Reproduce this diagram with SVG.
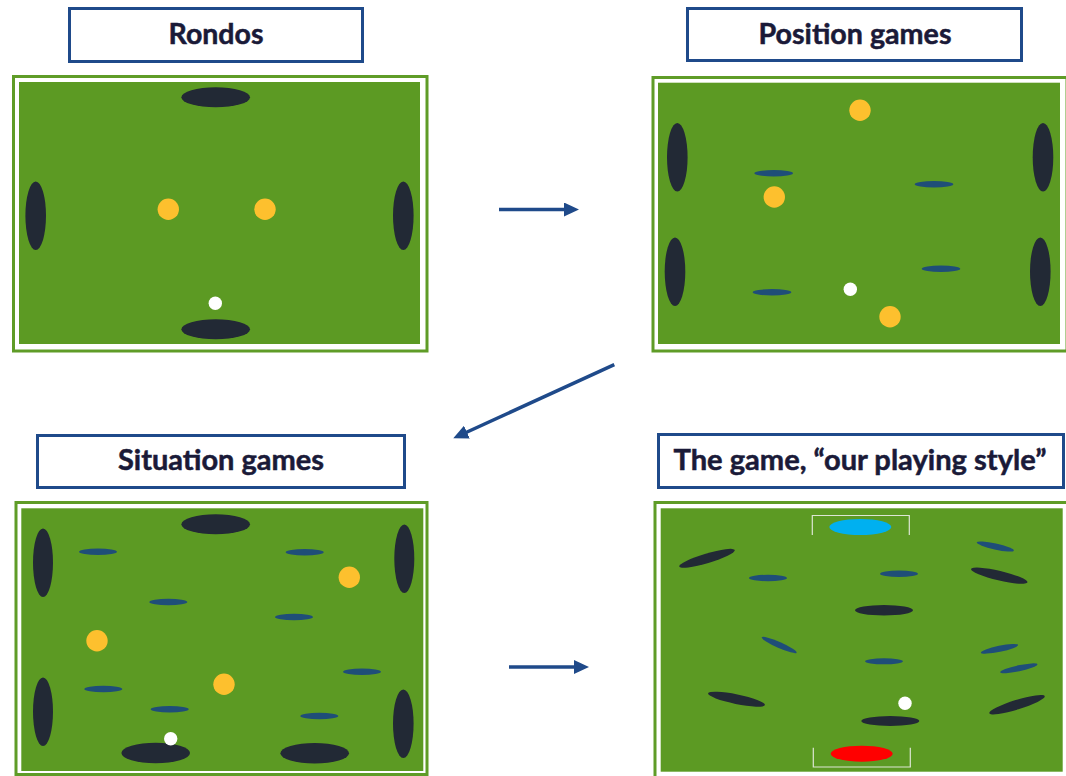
<svg xmlns="http://www.w3.org/2000/svg" width="1066" height="776" viewBox="0 0 1066 776">
<defs>
<style>
.title rect{fill:#fff;stroke:#1f4a8a;stroke-width:3}
.title text{font-family:Lato,"Noto Sans",sans-serif;font-weight:bold;font-size:28px;fill:#1a1a38;stroke:#1a1a38;stroke-width:0.5;text-anchor:middle}
.frame{fill:#fff;stroke:#5f9c27;stroke-width:3}
.pitch{fill:#5c9a23}
.d{fill:#222935}
.y{fill:#fdc02e}
.w{fill:#fff}
.b{fill:#1f4e78}
.goal{fill:none;stroke:#dde6d4;stroke-width:1.2}
.conn line{stroke:#1f4a8a;stroke-width:3.5}
</style>
<marker id="ah" viewBox="0 -7 15 14" markerWidth="15" markerHeight="14" refX="1" refY="0" orient="auto" markerUnits="userSpaceOnUse">
<path d="M0,-7 L15,0 L0,7 z" fill="#1f4a8a"/>
</marker>
</defs>
<rect width="1066" height="776" fill="#fff"/>

<g id="title-rondos" class="title">
<rect x="69.5" y="8.5" width="293" height="53"/>
<text x="216" y="44" textLength="95" lengthAdjust="spacingAndGlyphs">Rondos</text>
</g>
<g id="title-position" class="title">
<rect x="687.5" y="8.5" width="334" height="52"/>
<text x="855" y="43.5" textLength="193" lengthAdjust="spacingAndGlyphs">Position games</text>
</g>
<g id="title-situation" class="title">
<rect x="37.5" y="435.5" width="367" height="52"/>
<text x="221" y="469.5" textLength="206" lengthAdjust="spacingAndGlyphs">Situation games</text>
</g>
<g id="title-game" class="title">
<rect x="658.5" y="434.5" width="405" height="53"/>
<text x="860" y="469.5" textLength="373" lengthAdjust="spacingAndGlyphs">The game, “our playing style”</text>
</g>

<g id="panel-rondos">
<rect class="frame" x="13.5" y="76.5" width="413.5" height="274.5"/>
<rect class="pitch" x="19" y="82" width="401" height="262"/>
<ellipse class="d" cx="215.7" cy="97.3" rx="34.3" ry="10"/>
<ellipse class="d" cx="215.7" cy="329.3" rx="34.3" ry="10"/>
<ellipse class="d" cx="35.7" cy="215.7" rx="10.3" ry="34.3"/>
<ellipse class="d" cx="403.3" cy="215.7" rx="10.3" ry="34.3"/>
<circle class="y" cx="168.3" cy="209.3" r="10.7"/>
<circle class="y" cx="265" cy="209.3" r="10.7"/>
<circle class="w" cx="215.3" cy="303.3" r="6.7"/>
</g>

<g id="panel-position">
<rect class="frame" x="653" y="77.5" width="414" height="273.5"/>
<rect class="pitch" x="658" y="82.7" width="402" height="261.3"/>
<ellipse class="d" cx="677.3" cy="157.3" rx="10.3" ry="34.3"/>
<ellipse class="d" cx="675" cy="271.7" rx="10.3" ry="34.3"/>
<ellipse class="d" cx="1043" cy="157.3" rx="10.3" ry="34.3"/>
<ellipse class="d" cx="1040.3" cy="271.7" rx="10.3" ry="34.3"/>
<ellipse class="b" cx="773.7" cy="173.3" rx="19.3" ry="3.2"/>
<ellipse class="b" cx="934" cy="184.3" rx="19.3" ry="3.2"/>
<ellipse class="b" cx="941" cy="268.7" rx="19.3" ry="3.2"/>
<ellipse class="b" cx="772" cy="292.3" rx="19.3" ry="3.2"/>
<circle class="y" cx="860" cy="110.3" r="10.7"/>
<circle class="y" cx="774.3" cy="197" r="10.7"/>
<circle class="y" cx="890" cy="316.7" r="10.7"/>
<circle class="w" cx="850.3" cy="289.3" r="6.7"/>
</g>

<g id="panel-situation">
<rect class="frame" x="16" y="502.5" width="411" height="272"/>
<rect class="pitch" x="21.3" y="508.3" width="402" height="262.7"/>
<ellipse class="d" cx="215.7" cy="524.3" rx="34.3" ry="10"/>
<ellipse class="d" cx="155.7" cy="753" rx="34.3" ry="10.3"/>
<ellipse class="d" cx="314.7" cy="753.3" rx="34.3" ry="10.3"/>
<ellipse class="d" cx="43" cy="562.7" rx="10" ry="34.3"/>
<ellipse class="d" cx="43" cy="711.7" rx="10" ry="34.3"/>
<ellipse class="d" cx="404.3" cy="558.7" rx="10" ry="34.3"/>
<ellipse class="d" cx="403.3" cy="723.7" rx="10.3" ry="34.3"/>
<ellipse class="b" cx="98" cy="551.7" rx="19" ry="3.2"/>
<ellipse class="b" cx="304.7" cy="552.3" rx="19" ry="3.2"/>
<ellipse class="b" cx="168.3" cy="602" rx="19" ry="3.2"/>
<ellipse class="b" cx="294" cy="617" rx="19" ry="3.2"/>
<ellipse class="b" cx="362" cy="671.7" rx="19" ry="3.2"/>
<ellipse class="b" cx="103.3" cy="689" rx="19" ry="3.2"/>
<ellipse class="b" cx="169.7" cy="709.3" rx="19" ry="3.2"/>
<ellipse class="b" cx="319.3" cy="716" rx="19" ry="3.2"/>
<circle class="y" cx="349.3" cy="577.3" r="10.7"/>
<circle class="y" cx="97" cy="640.7" r="10.7"/>
<circle class="y" cx="224" cy="684.3" r="10.7"/>
<circle class="w" cx="170.7" cy="738.7" r="6.7"/>
</g>

<g id="panel-game">
<rect class="frame" x="655" y="502.5" width="414" height="276"/>
<rect class="pitch" x="660.7" y="508.3" width="402" height="263.4"/>
<path class="goal" d="M812.3,535 V515.5 H909.3 V535"/>
<path class="goal" d="M813.3,747.7 V767 H910.3 V747.7"/>
<ellipse cx="860.3" cy="527" rx="31" ry="8" fill="#00b0f0"/>
<ellipse cx="861.7" cy="753.7" rx="31" ry="8" fill="#ff0000"/>
<ellipse class="d" cx="0" cy="0" rx="29" ry="4.8" transform="translate(707,558.3) rotate(-16.6)"/>
<ellipse class="d" cx="0" cy="0" rx="29" ry="4.8" transform="translate(999.3,575.7) rotate(13.2)"/>
<ellipse class="d" cx="884" cy="610.3" rx="29" ry="5.2"/>
<ellipse class="d" cx="0" cy="0" rx="29" ry="4.8" transform="translate(736.5,699.2) rotate(11.6)"/>
<ellipse class="d" cx="0" cy="0" rx="29" ry="4.8" transform="translate(1017,704.7) rotate(-17.2)"/>
<ellipse class="d" cx="890.3" cy="721" rx="29" ry="5"/>
<ellipse class="b" cx="0" cy="0" rx="19" ry="3" transform="translate(995.3,546.5) rotate(12.6)"/>
<ellipse class="b" cx="768" cy="578" rx="19" ry="3.2"/>
<ellipse class="b" cx="899" cy="573.7" rx="19" ry="3.2"/>
<ellipse class="b" cx="0" cy="0" rx="19" ry="3" transform="translate(779.2,645) rotate(23.7)"/>
<ellipse class="b" cx="884" cy="661.3" rx="19" ry="3"/>
<ellipse class="b" cx="0" cy="0" rx="19" ry="3" transform="translate(999.5,648.8) rotate(-11.7)"/>
<ellipse class="b" cx="0" cy="0" rx="19" ry="3" transform="translate(1018.8,668.3) rotate(-12)"/>
<circle class="w" cx="905" cy="703.3" r="6.7"/>
</g>

<g id="connectors" class="conn">
<line x1="499" y1="209.5" x2="565" y2="209.5" marker-end="url(#ah)"/>
<line x1="614.3" y1="364.7" x2="466" y2="432.5" marker-end="url(#ah)"/>
<line x1="509" y1="667" x2="575" y2="667" marker-end="url(#ah)"/>
</g>
</svg>
